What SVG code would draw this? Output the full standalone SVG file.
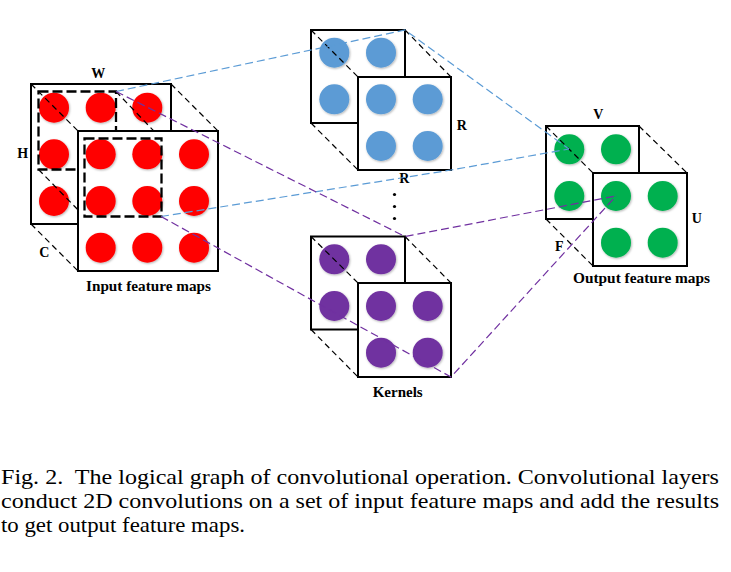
<svg xmlns="http://www.w3.org/2000/svg" width="731" height="572" viewBox="0 0 731 572">
<style>
.box{fill:#fff;stroke:#000;stroke-width:2}
.win{fill:none;stroke:#000;stroke-width:2.3;stroke-dasharray:10 4}
.diag{fill:none;stroke:#000;stroke-width:1.2;stroke-dasharray:6 4}
.red{fill:#ff0000;filter:url(#sh)}
.blue{fill:#5b9bd5;filter:url(#sh)}
.pur{fill:#7030a0;filter:url(#sh)}
.grn{fill:#00b050;filter:url(#sh)}
.cb{fill:none;stroke:#5b9bd5;stroke-width:1.2;stroke-dasharray:8 4}
.cp{fill:none;stroke:#7030a0;stroke-width:1.2;stroke-dasharray:8 4}
.lbl{font-family:"Liberation Serif","Times New Roman",serif;font-weight:bold;font-size:14px;fill:#000}
.cap{font-family:"Liberation Serif","Times New Roman",serif;font-size:22px;fill:#000;white-space:pre}
</style>
<defs>
<filter id="sh" x="-30%" y="-30%" width="160%" height="160%">
<feDropShadow dx="0.8" dy="1" stdDeviation="0.9" flood-color="#000" flood-opacity="0.3"/>
</filter>
</defs>

<g id="input-maps">
<rect class="box" x="31" y="84" width="140" height="140"/>
<circle class="red" cx="54" cy="107.7" r="15"/><circle class="red" cx="100.7" cy="107.7" r="15"/><circle class="red" cx="147.3" cy="107.7" r="15"/>
<circle class="red" cx="54" cy="154.3" r="15"/><circle class="red" cx="100.7" cy="154.3" r="15"/><circle class="red" cx="147.3" cy="154.3" r="15"/>
<circle class="red" cx="54" cy="201" r="15"/><circle class="red" cx="100.7" cy="201" r="15"/><circle class="red" cx="147.3" cy="201" r="15"/>
<rect class="win" x="38.5" y="91.5" width="77.5" height="78"/>
<path class="diag" d="M31 84L78 131M171 84L218 131M31 224L78 271M116 91.5L161 138.5M38.5 169.5L84.5 216.5"/>
<rect class="box" x="78" y="131" width="140" height="140"/>
<circle class="red" cx="100.7" cy="154.3" r="15"/><circle class="red" cx="147.3" cy="154.3" r="15"/><circle class="red" cx="194" cy="154.3" r="15"/>
<circle class="red" cx="100.7" cy="201" r="15"/><circle class="red" cx="147.3" cy="201" r="15"/><circle class="red" cx="194" cy="201" r="15"/>
<circle class="red" cx="100.7" cy="247.7" r="15"/><circle class="red" cx="147.3" cy="247.7" r="15"/><circle class="red" cx="194" cy="247.7" r="15"/>
<rect class="win" x="84.5" y="138.5" width="77" height="78"/>
<text class="lbl" x="98.3" y="78" text-anchor="middle">W</text>
<text class="lbl" x="22.7" y="158" text-anchor="middle">H</text>
<text class="lbl" x="44.3" y="257" text-anchor="middle">C</text>
<text class="lbl" x="86" y="291" textLength="125" lengthAdjust="spacingAndGlyphs">Input feature maps</text>
</g>

<g id="kernel-blue">
<rect class="box" x="311" y="30" width="94" height="93"/>
<circle class="blue" cx="334.3" cy="52.7" r="15"/><circle class="blue" cx="381" cy="52.7" r="15"/>
<circle class="blue" cx="334.3" cy="99.3" r="15"/>
<path class="diag" d="M311 30L358 77M405 30L451 77M311 123L358 170"/>
<rect class="box" x="358" y="77" width="93" height="93"/>
<circle class="blue" cx="381" cy="99.3" r="15"/><circle class="blue" cx="427.7" cy="99.3" r="15"/>
<circle class="blue" cx="381" cy="146" r="15"/><circle class="blue" cx="427.7" cy="146" r="15"/>
<text class="lbl" x="461.7" y="130" text-anchor="middle">R</text>
<text class="lbl" x="404.3" y="183" text-anchor="middle">R</text>
</g>

<g id="ellipsis">
<circle cx="394.5" cy="194.5" r="1.6" fill="#000"/>
<circle cx="394.5" cy="206.5" r="1.6" fill="#000"/>
<circle cx="394.5" cy="218.5" r="1.6" fill="#000"/>
</g>

<g id="kernel-purple">
<rect class="box" x="311" y="236.5" width="94" height="93"/>
<circle class="pur" cx="334.3" cy="259.3" r="15"/><circle class="pur" cx="381" cy="259.3" r="15"/>
<circle class="pur" cx="334.3" cy="306" r="15"/>
<path class="diag" d="M311 236.5L358 283M405 236.5L451 283M311 329.5L358 377"/>
<rect class="box" x="358" y="283" width="93" height="94"/>
<circle class="pur" cx="381" cy="306" r="15"/><circle class="pur" cx="427.7" cy="306" r="15"/>
<circle class="pur" cx="381" cy="352.7" r="15"/><circle class="pur" cx="427.7" cy="352.7" r="15"/>
<text class="lbl" x="372.7" y="397" textLength="50" lengthAdjust="spacingAndGlyphs">Kernels</text>
</g>

<g id="output-maps">
<rect class="box" x="546" y="126" width="93" height="93"/>
<circle class="grn" cx="569.3" cy="149.3" r="15"/><circle class="grn" cx="616" cy="149.3" r="15"/>
<circle class="grn" cx="569.3" cy="196" r="15"/>
<path class="diag" d="M546 126L593 173M639 126L687 173M546 219L593 266"/>
<rect class="box" x="593" y="173" width="94" height="93"/>
<circle class="grn" cx="616" cy="196" r="15"/><circle class="grn" cx="662.7" cy="196" r="15"/>
<circle class="grn" cx="616" cy="242.7" r="15"/><circle class="grn" cx="662.7" cy="242.7" r="15"/>
<text class="lbl" x="598.3" y="119" text-anchor="middle">V</text>
<text class="lbl" x="696.7" y="223" text-anchor="middle">U</text>
<text class="lbl" x="559.3" y="251" text-anchor="middle">F</text>
<text class="lbl" x="573" y="283" textLength="137" lengthAdjust="spacingAndGlyphs">Output feature maps</text>
</g>

<g id="connectors">
<polyline class="cb" points="116,91.5 405,30 569,149"/>
<polyline class="cb" points="161,216.5 451,170 569,149"/>
<polyline class="cp" points="116,91.5 405,236.5 616,196"/>
<polyline class="cp" points="161,216.5 451,377 616,196"/>
</g>

<g id="caption">
<text class="cap" x="1" y="484" textLength="718" lengthAdjust="spacingAndGlyphs">Fig. 2.  The logical graph of convolutional operation. Convolutional layers</text>
<text class="cap" x="1" y="508" textLength="718" lengthAdjust="spacingAndGlyphs">conduct 2D convolutions on a set of input feature maps and add the results</text>
<text class="cap" x="1" y="532" textLength="244" lengthAdjust="spacingAndGlyphs">to get output feature maps.</text>
</g>
</svg>
